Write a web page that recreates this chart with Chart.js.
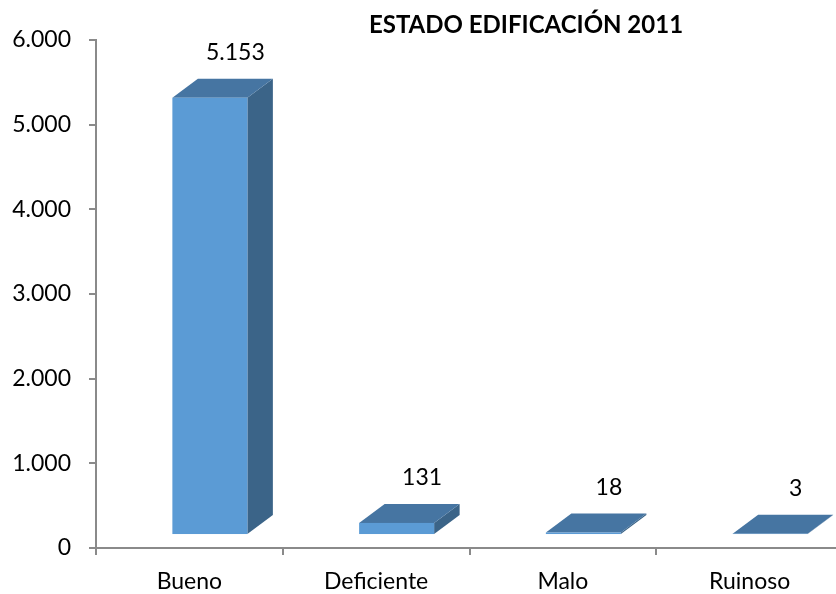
<!DOCTYPE html>
<html>
<head>
<meta charset="utf-8">
<script src="https://cdn.jsdelivr.net/npm/chart.js@4"></script>
<style>
  html, body { margin: 0; padding: 0; background: #ffffff; overflow: hidden; }
  #wrap { width: 843px; height: 594px; }
</style>
</head>
<body>
<div id="wrap"><canvas id="c" width="843" height="594"></canvas></div>
<script>
// Building condition counts, 2011
const categories = ['Bueno', 'Deficiente', 'Malo', 'Ruinoso'];
const edificios = [5153, 131, 18, 3];
const yTicks = [0, 1000, 2000, 3000, 4000, 5000, 6000];
const chartTitle = 'ESTADO EDIFICACIÓN 2011';

const FONT = 'Lato, "Open Sans", sans-serif';
const FRONT = '#5B9BD5';
const TOP = '#4675A2';
const SIDE = '#3B6488';
const AXIS = '#8A8A8A';

const fmt = v => Math.round(v).toLocaleString('de-DE');

// Draws each bar as a 3-D prism: front, top and right side faces,
// plus its value label sitting above the back edge.
const prismBars = {
  id: 'prismBars',
  afterDatasetsDraw(chart) {
    const ctx = chart.ctx;
    const meta = chart.getDatasetMeta(0);
    const shift = 20.5, dx = 25.5, dy = -19;
    ctx.save();
    meta.data.forEach((bar, i) => {
      const p = bar.getProps(['x', 'y', 'base', 'width'], true);
      const L = p.x - p.width / 2 + shift;
      const R = p.x + p.width / 2 + shift;
      const top = p.y, bot = p.base;
      // side face
      ctx.fillStyle = SIDE;
      ctx.beginPath();
      ctx.moveTo(R, top); ctx.lineTo(R + dx, top + dy);
      ctx.lineTo(R + dx, bot + dy); ctx.lineTo(R, bot);
      ctx.closePath(); ctx.fill();
      // top face
      ctx.fillStyle = TOP;
      ctx.beginPath();
      ctx.moveTo(L, top); ctx.lineTo(L + dx, top + dy);
      ctx.lineTo(R + dx, top + dy); ctx.lineTo(R, top);
      ctx.closePath(); ctx.fill();
      // front face
      ctx.fillStyle = FRONT;
      ctx.fillRect(L, top, R - L, bot - top);
      // value label
      ctx.fillStyle = '#000000';
      ctx.font = '23px ' + FONT;
      ctx.textAlign = 'center';
      ctx.textBaseline = 'middle';
      ctx.fillText(fmt(edificios[i]), (L + R) / 2 + dx, top + dy - 26);
    });
    ctx.restore();
  }
};

const titlePlugin = {
  id: 'titleText',
  afterDraw(chart) {
    const ctx = chart.ctx;
    ctx.save();
    ctx.fillStyle = '#000000';
    ctx.font = 'bold 24px ' + FONT;
    ctx.textAlign = 'center';
    ctx.textBaseline = 'middle';
    ctx.fillText(chartTitle, 526, 25);
    ctx.restore();
  }
};

new Chart(document.getElementById('c'), {
  type: 'bar',
  data: {
    labels: categories,
    datasets: [{
      data: edificios,
      yAxisID: 'yBar',
      backgroundColor: 'rgba(0,0,0,0)',
      borderWidth: 0,
      barPercentage: 0.4016,
      categoryPercentage: 1
    }]
  },
  options: {
    responsive: false,
    animation: false,
    devicePixelRatio: 1,
    layout: { padding: { top: 40, left: 0, right: 0, bottom: 0 } },
    plugins: { legend: { display: false }, tooltip: { enabled: false }, title: { display: false } },
    scales: {
      x: {
        offset: true,
        grid: { offset: true, drawOnChartArea: false, drawTicks: true, tickLength: 7, color: AXIS, lineWidth: 2 },
        border: { display: true, color: AXIS, width: 2 },
        ticks: { color: '#000000', font: { family: FONT, size: 23 }, padding: 13 },
        afterFit(s) { s.height = 46; }
      },
      y: {
        min: yTicks[0],
        max: yTicks[yTicks.length - 1],
        afterBuildTicks(s) { s.ticks = yTicks.map(v => ({ value: v })); },
        grid: { drawOnChartArea: false, drawTicks: true, tickLength: 7, color: AXIS, lineWidth: 2 },
        border: { display: true, color: AXIS, width: 2 },
        ticks: { color: '#000000', font: { family: FONT, size: 23 }, padding: 18, callback: v => fmt(v) },
        afterFit(s) { s.width = 96; }
      },
      // floor-level scale for the prisms, same slope, raised onto the 3-D floor
      yBar: {
        display: false,
        min: -165,
        max: 5835
      }
    }
  },
  plugins: [prismBars, titlePlugin]
});
</script>
</body>
</html>
